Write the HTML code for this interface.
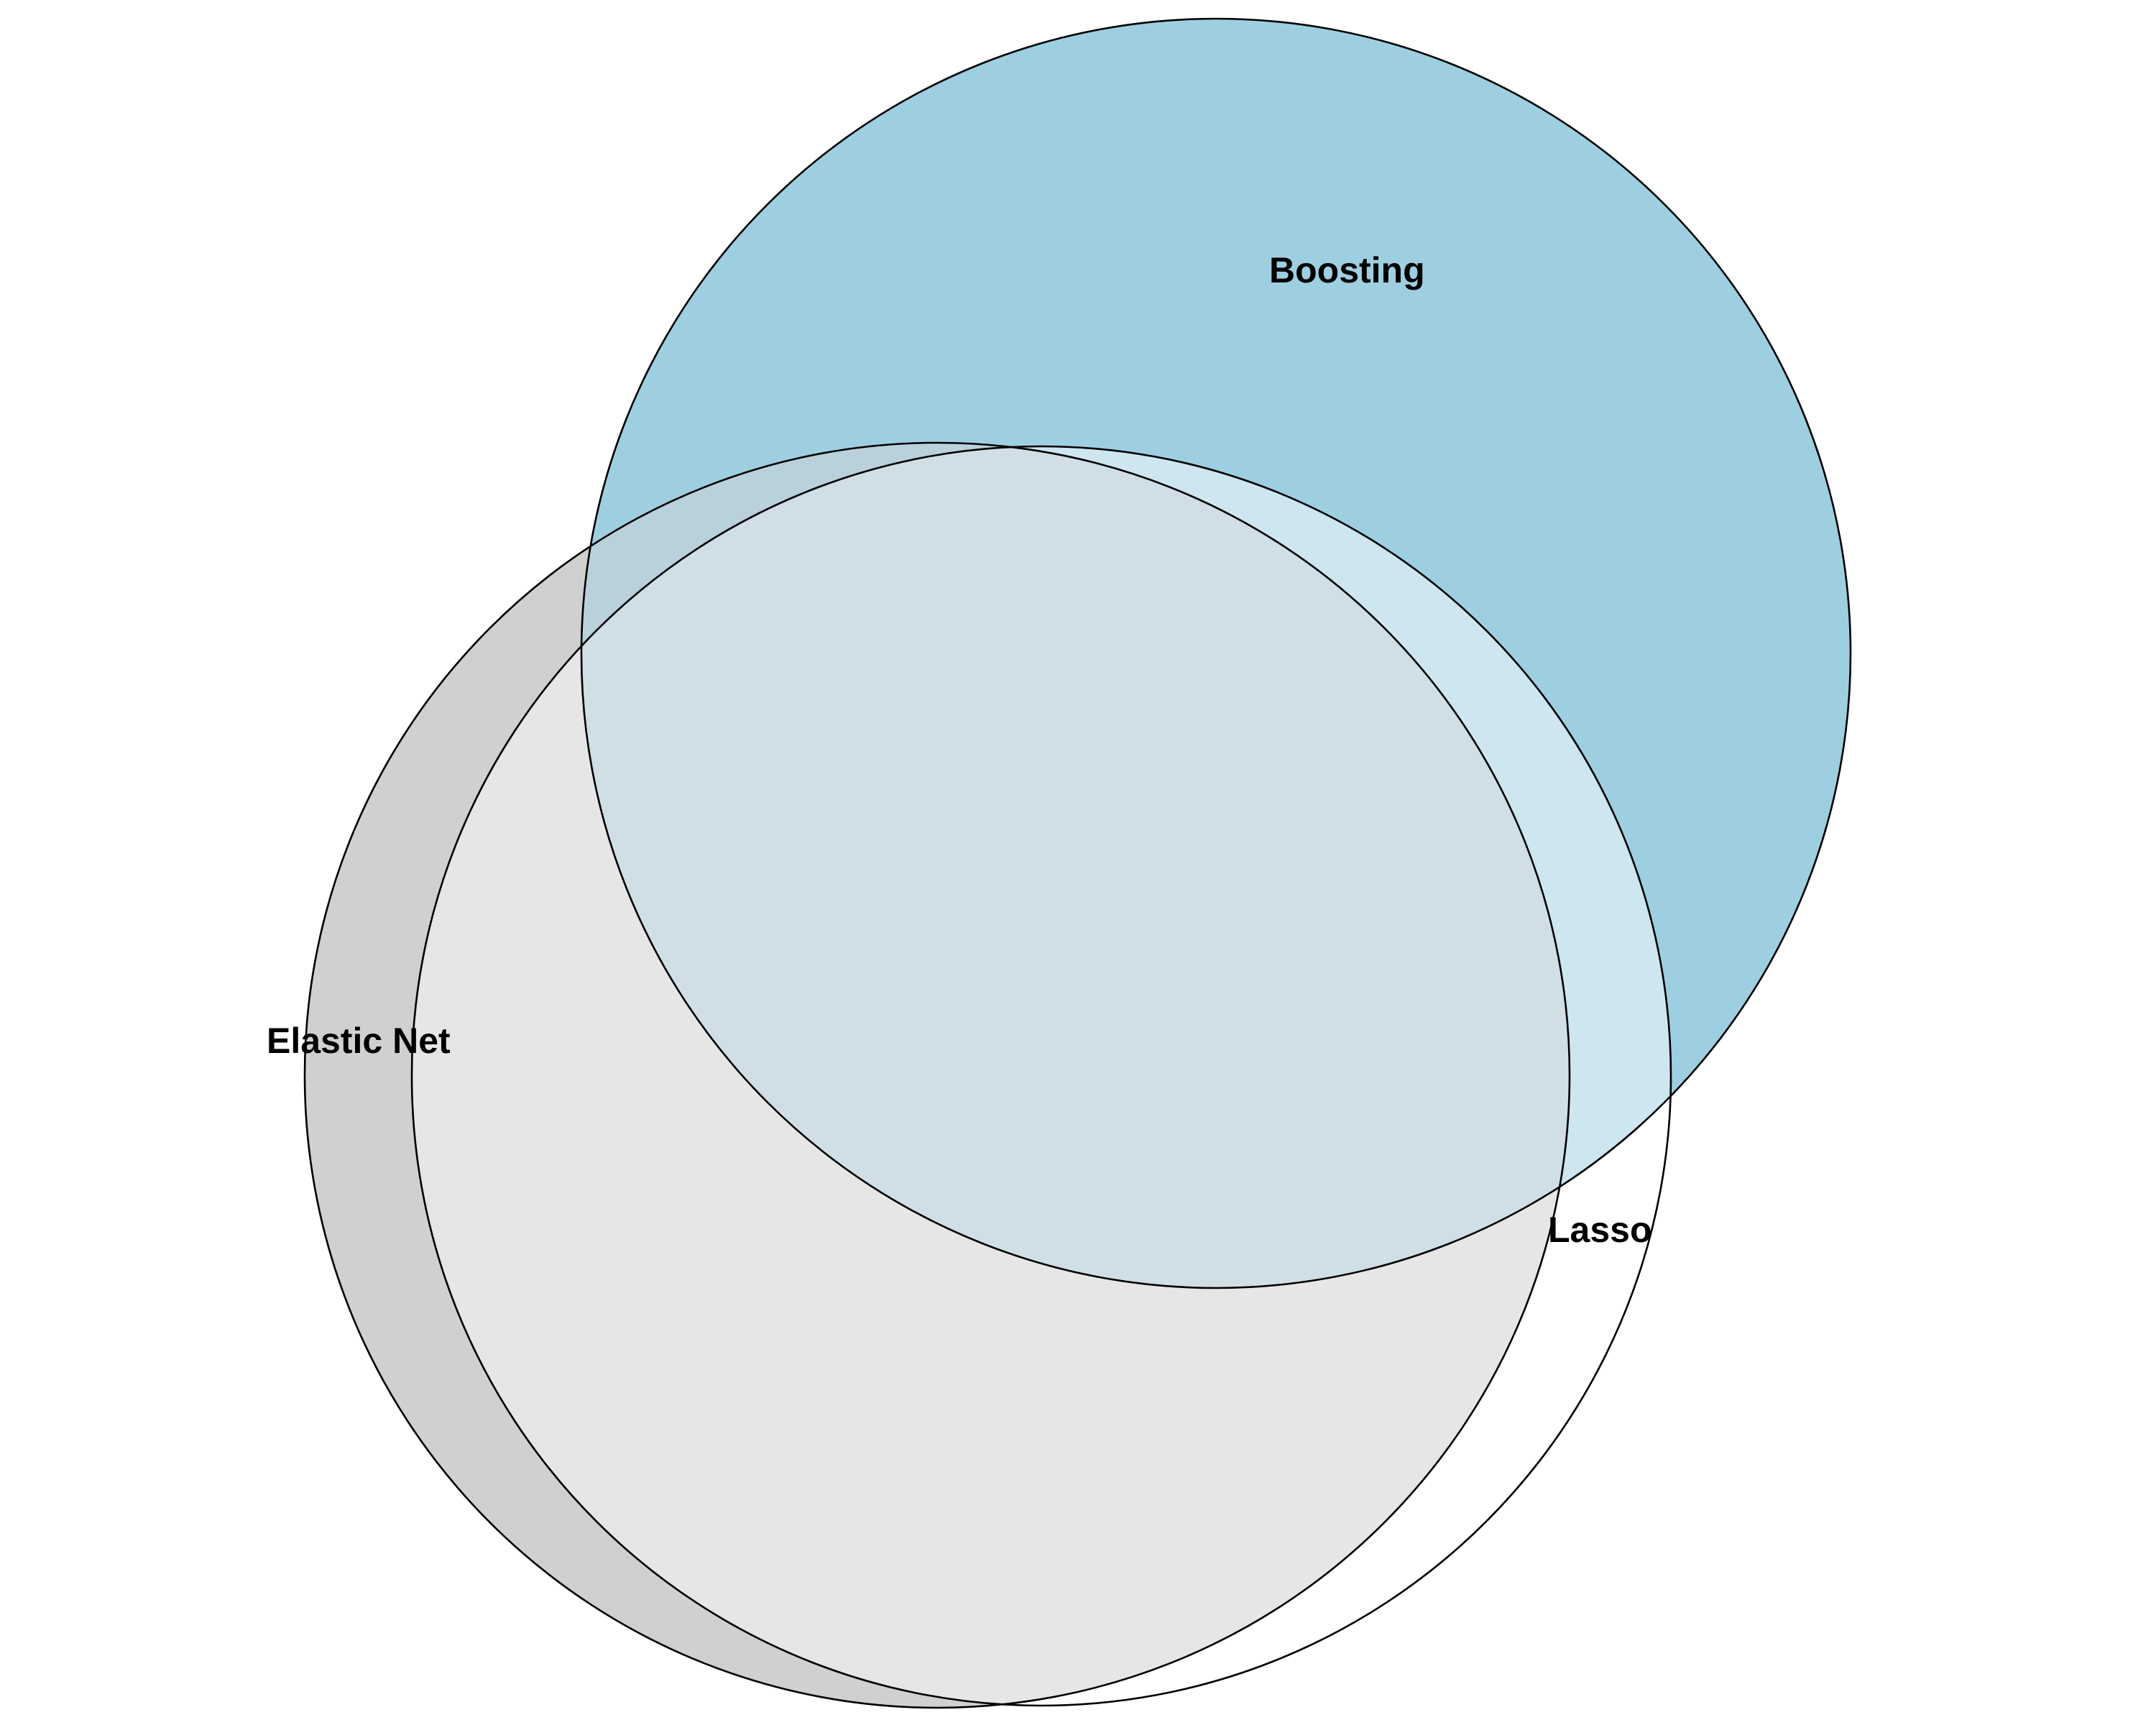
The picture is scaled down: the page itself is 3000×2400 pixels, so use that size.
<!DOCTYPE html>
<html><head><meta charset="utf-8"><style>
html,body{margin:0;padding:0;background:#fff;}
svg{display:block;}
text{font-family:"Liberation Sans",Arial,sans-serif;font-weight:bold;font-size:50px;fill:#000;}
</style></head><body>
<svg id="chart" width="3000" height="2400" viewBox="0 0 3000 2400" xmlns="http://www.w3.org/2000/svg">
<defs>
<clipPath id="clipE"><circle cx="1304" cy="1496" r="880"/></clipPath>
<clipPath id="clipL"><circle cx="1449" cy="1497" r="876"/></clipPath>
<clipPath id="clipB"><circle cx="1692" cy="909" r="883"/></clipPath>
</defs>
<g id="regions"></g>
<g id="outlines"></g>
<g id="labels"></g>
</svg>
<script>
const setNames = ["Elastic Net", "Boosting", "Lasso"];
const centerX = [1304, 1692, 1449];
const centerY = [1496, 909, 1497];
const radii = [880, 883, 876];
const labelX = [371, 1766, 2154];
const labelY = [1465, 393, 1728];
const baseColors = ["#d0d0d0", "#9ecfe0", "#ffffff"];

const NS = "http://www.w3.org/2000/svg";
const regions = document.getElementById('regions');
const outlines = document.getElementById('outlines');
const labels = document.getElementById('labels');
const clipIds = ["clipE", "clipB", "clipL"];

function circle(i, fill, stroke) {
  const c = document.createElementNS(NS, 'circle');
  c.setAttribute('cx', centerX[i]);
  c.setAttribute('cy', centerY[i]);
  c.setAttribute('r', radii[i]);
  c.setAttribute('fill', fill);
  if (stroke) { c.setAttribute('stroke', '#000'); c.setAttribute('stroke-width', '2.6'); }
  return c;
}
for (let i = 0; i < 3; i++) {
  const cc = document.querySelector('#' + clipIds[i] + ' circle');
  cc.setAttribute('cx', centerX[i]); cc.setAttribute('cy', centerY[i]); cc.setAttribute('r', radii[i]);
}
for (let i = 0; i < 3; i++) {
  const c = circle(i, baseColors[i], false);
  
  
  regions.appendChild(c);
}
function inter(i, j, k, color, name) {
  let g = document.createElementNS(NS, 'g');
  g.setAttribute('clip-path', 'url(#' + clipIds[j] + ')');
  let target = g;
  if (k !== null) {
    const g2 = document.createElementNS(NS, 'g');
    g2.setAttribute('clip-path', 'url(#' + clipIds[k] + ')');
    g.appendChild(g2);
    target = g2;
  }
  const c = circle(i, color, false);
  
  
  target.appendChild(c);
  regions.appendChild(g);
}
inter(0, 2, null, "#e6e6e6", "region-elastic-lasso");
inter(1, 2, null, "#cde6ef", "region-boosting-lasso");
inter(1, 0, null, "#b9d1db", "region-boosting-elastic");
inter(1, 0, 2, "#d0dfe6", "region-all-three");
for (let i = 0; i < 3; i++) {
  const c = circle(i, 'none', true);
  
  
  outlines.appendChild(c);
}
for (let i = 0; i < 3; i++) {
  const t = document.createElementNS(NS, 'text');
  t.setAttribute('x', labelX[i]);
  t.setAttribute('y', labelY[i]);
  t.textContent = setNames[i];
  
  
  labels.appendChild(t);
}
</script>
</body></html>
